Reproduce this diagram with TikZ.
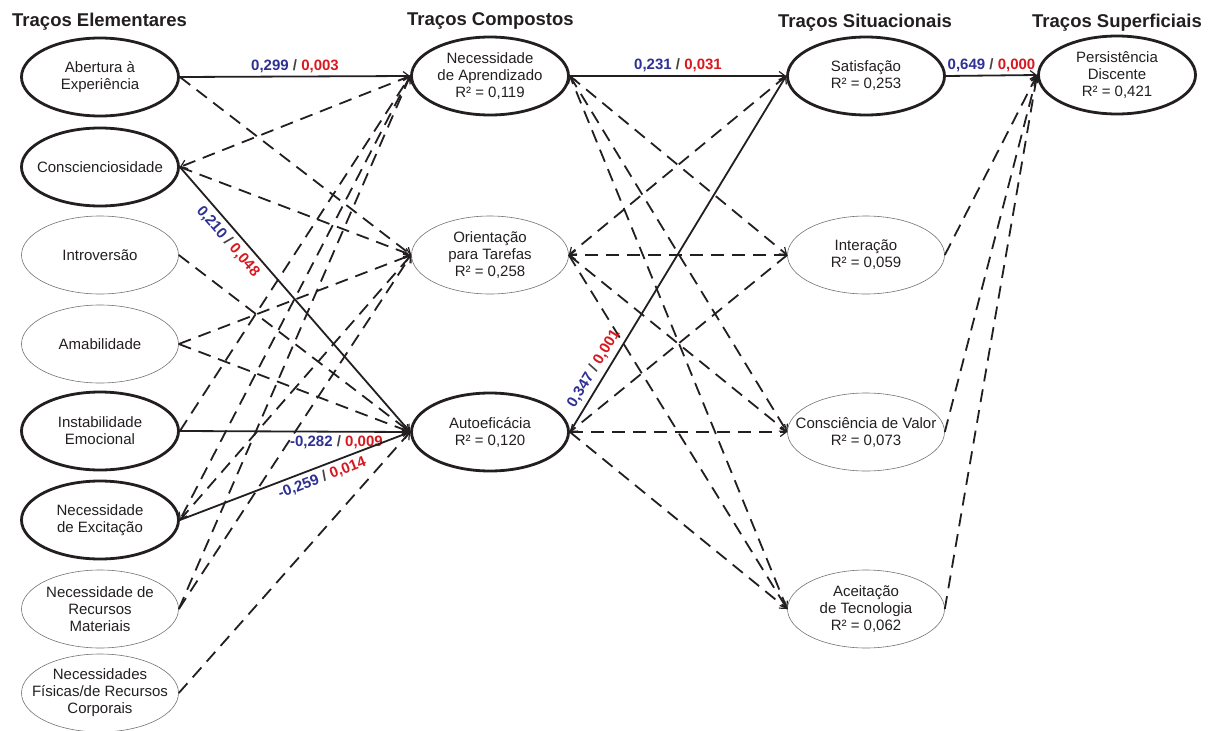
\documentclass[tikz,border=0pt]{standalone}
\usepackage{fontspec}
\setmainfont{Liberation Sans}
\usetikzlibrary{shapes.geometric,arrows.meta}
\definecolor{lblue}{HTML}{2E3192}
\definecolor{lred}{HTML}{D7191F}
\definecolor{ink}{HTML}{231F20}
\newcommand\pv[2]{\textcolor{lblue}{#1} \textcolor{ink!85}{/} \textcolor{lred}{#2}}
\begin{document}
\begin{tikzpicture}[x=1pt,y=-1pt,
  ell/.style={ellipse, minimum width=157pt, minimum height=78pt, inner sep=0pt},
  thickell/.style={ell, draw=ink, line width=2.8pt},
  thinell/.style={ell, draw=black!55, line width=0.6pt},
  txt/.style={align=center, font=\fontsize{15}{17}\selectfont, text=ink, inner sep=0pt},
  head/.style={anchor=base west, font=\fontsize{18.5}{20}\selectfont\bfseries, text=ink, inner sep=0pt},
  sol/.style={draw=ink, line width=1.8pt, -{Straight Barb[length=6pt,width=9pt,line width=1.2pt]}},
  dsh/.style={sol, dash pattern=on 13pt off 8pt},
  lbl/.style={font=\fontsize{15}{16}\selectfont\bfseries, inner sep=1pt},
]
\useasboundingbox (0,0) rectangle (1219,731);

% headers
\node[head] (h1) at (12,26) {Traços Elementares};
\node[head] (h2) at (407,25) {Traços Compostos};
\node[head] (h3) at (778,27) {Traços Situacionais};
\node[head] (h4) at (1032,27) {Traços Superficiais};

% elementary
\node[thickell] (e1) at (100,77) {};  \node[txt] (e1t) at (e1) {Abertura à\\Experiência};
\node[thickell] (e2) at (100,167) {}; \node[txt] (e2t) at (e2) {Conscienciosidade};
\node[thinell] (e3) at (100,255) {};  \node[txt] (e3t) at (e3) {Introversão};
\node[thinell] (e4) at (100,344) {};  \node[txt] (e4t) at (e4) {Amabilidade};
\node[thickell] (e5) at (100,431) {}; \node[txt] (e5t) at (e5) {Instabilidade\\Emocional};
\node[thickell] (e6) at (100,520) {}; \node[txt] (e6t) at (e6) {Necessidade\\de Excitação};
\node[thinell] (e7) at (100,609) {};  \node[txt] (e7t) at (e7) {Necessidade de\\Recursos\\Materiais};
\node[thinell] (e8) at (100,693) {};  \node[txt] (e8t) at (e8) {Necessidades\\Físicas/de Recursos\\Corporais};

% composite
\node[thickell] (c1) at (490,76) {};  \node[txt] (c1t) at (c1) {Necessidade\\de Aprendizado\\R² = 0,119};
\node[thinell] (c2) at (490,255) {};  \node[txt] (c2t) at (c2) {Orientação\\para Tarefas\\R² = 0,258};
\node[thickell] (c3) at (490,432) {}; \node[txt] (c3t) at (c3) {Autoeficácia\\R² = 0,120};

% situational
\node[thickell] (s1) at (866,76) {};  \node[txt] (s1t) at (s1) {Satisfação\\R² = 0,253};
\node[thinell] (s2) at (866,255) {};  \node[txt] (s2t) at (s2) {Interação\\R² = 0,059};
\node[thinell] (s3) at (866,432) {};  \node[txt] (s3t) at (s3) {Consciência de Valor\\R² = 0,073};
\node[thinell] (s4) at (866,609) {};  \node[txt] (s4t) at (s4) {Aceitação\\de Tecnologia\\R² = 0,062};

% surface
\node[thickell] (p) at (1117,75) {};  \node[txt] (pt) at (p) {Persistência\\Discente\\R² = 0,421};

% dashed: elementary - composite
\draw[dsh] (e1.east) -- (c2.west);
\draw[dsh] (c1.west) -- (e2.east);
\draw[dsh] (e2.east) -- (c2.west);
\draw[dsh] (e3.east) -- (c3.west);
\draw[dsh] (e4.east) -- (c2.west);
\draw[dsh] (e4.east) -- (c3.west);
\draw[dsh] (e5.east) -- (c1.west);
\draw[dsh] (c1.west) -- (e6.east);
\draw[dsh] (e6.east) -- (c2.west);
\draw[dsh] (e7.east) -- (c1.west);
\draw[dsh] (e7.east) -- (c2.west);
\draw[dsh] (e8.east) -- (c3.west);

% dashed: composite - situational
\draw[dsh] (c1.east) -- (s2.west);
\draw[dsh] (c1.east) -- (s3.west);
\draw[dsh] (s4.west) -- (c1.east);
\draw[dsh] (s1.west) -- (c2.east);
\draw[dsh] (s2.west) -- (c2.east);
\draw[dsh] (c2.east) -- (s3.west);
\draw[dsh] (c2.east) -- (s4.west);
\draw[dsh] (s2.west) -- (c3.east);
\draw[dsh] (c3.east) -- (s3.west);
\draw[dsh] (c3.east) -- (s4.west);

% dashed: situational - surface
\draw[dsh] (s2.east) -- (p.west);
\draw[dsh] (s3.east) -- (p.west);
\draw[dsh] (s4.east) -- (p.west);

% solid significant paths
\draw[sol] (e1.east) -- node[lbl, above=2pt] (l1) {\pv{0,299}{0,003}} (c1.west);
\draw[sol] (e2.east) -- node[lbl, sloped, below=4pt, pos=0.25] (l2) {\pv{0,210}{0,048}} (c3.west);
\draw[sol] (e5.east) -- node[lbl, below=2pt, pos=0.68] (l3) {\pv{-0,282}{0,009}} (c3.west);
\draw[sol] (e6.east) -- node[lbl, sloped, below=3pt, pos=0.6] (l4) {\pv{-0,259}{0,014}} (c3.west);
\draw[sol] (c1.east) -- node[lbl, above=2pt] (l5) {\pv{0,231}{0,031}} (s1.west);
\draw[sol] (c3.east) -- node[lbl, sloped, above=4pt, pos=0.16] (l6) {\pv{0,347}{0,001}} (s1.west);
\draw[sol] (s1.east) -- node[lbl, above=2pt] (l7) {\pv{0,649}{0,000}} (p.west);
\end{tikzpicture}
\end{document}
